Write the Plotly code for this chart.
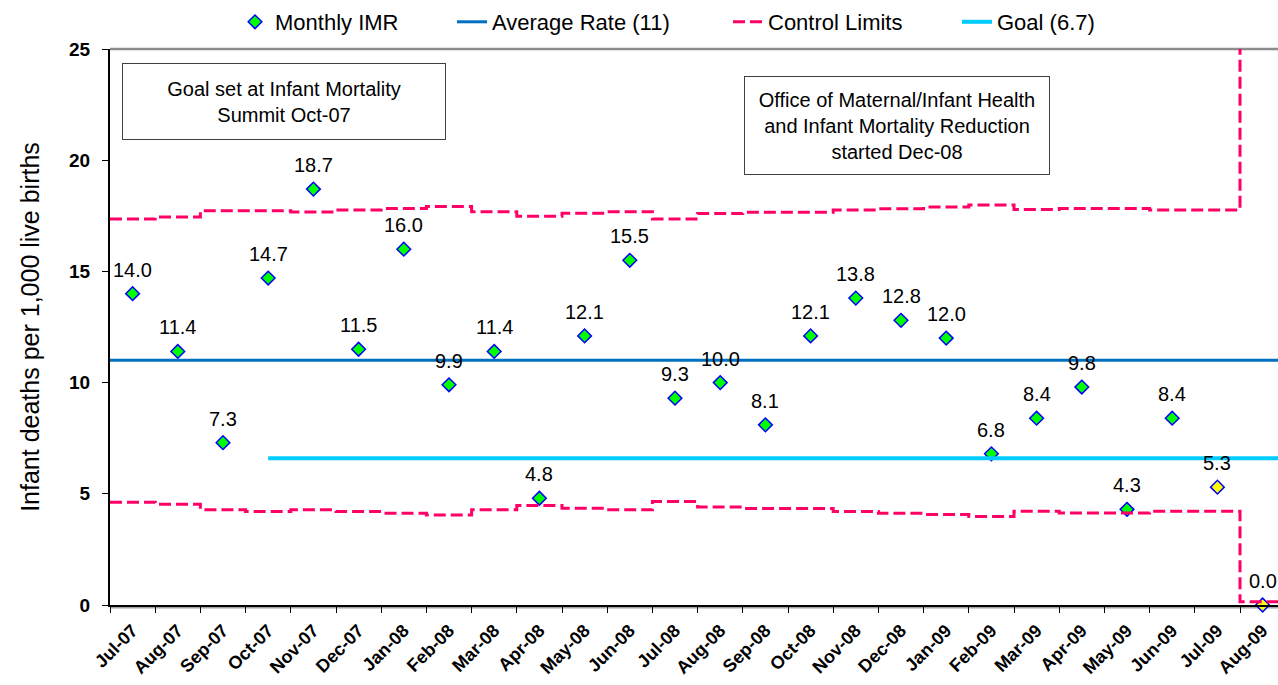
import plotly.graph_objects as go

# ---- data ----
months = ["Jul-07", "Aug-07", "Sep-07", "Oct-07", "Nov-07", "Dec-07", "Jan-08", "Feb-08",
          "Mar-08", "Apr-08", "May-08", "Jun-08", "Jul-08", "Aug-08", "Sep-08", "Oct-08",
          "Nov-08", "Dec-08", "Jan-09", "Feb-09", "Mar-09", "Apr-09", "May-09", "Jun-09",
          "Jul-09", "Aug-09"]
imr = [14.0, 11.4, 7.3, 14.7, 18.7, 11.5, 16.0, 9.9, 11.4, 4.8, 12.1, 15.5, 9.3, 10.0,
       8.1, 12.1, 13.8, 12.8, 12.0, 6.8, 8.4, 9.8, 4.3, 8.4, 5.3, 0.0]
provisional_months = ["Jul-09", "Aug-09"]
upper_limit = [17.36, 17.45, 17.73, 17.73, 17.67, 17.76, 17.83, 17.92, 17.68, 17.48, 17.61,
               17.68, 17.36, 17.6, 17.66, 17.66, 17.76, 17.82, 17.9, 17.99, 17.78, 17.83,
               17.83, 17.76, 17.76, 30.0]
lower_limit = [4.62, 4.53, 4.28, 4.2, 4.28, 4.2, 4.13, 4.05, 4.28, 4.47, 4.35, 4.28, 4.65,
               4.41, 4.34, 4.34, 4.2, 4.13, 4.07, 3.98, 4.22, 4.14, 4.14, 4.22, 4.22, 0.15]
average_rate = 11
goal_drawn = 6.6
goal_start = "Oct-07"
y_ticks = [0, 5, 10, 15, 20, 25]
box_texts = ["Goal set at Infant Mortality<br>Summit Oct-07",
             "Office of Maternal/Infant Health<br>and Infant Mortality Reduction<br>started Dec-08"]

FONT = "Liberation Sans, Arial, sans-serif"

idx = list(range(len(months)))
bounds = [i - 0.5 for i in range(len(months) + 1)]
x_end = len(months) - 0.5

# plot-area geometry (pixels)
L, R, T, B = 110, 0, 49, 80
W, H = 1278, 685
pw = W - L - R
ph = H - T - B
cat_px = 45.2
x_max = -0.5 + pw / cat_px

colors = ["#FFFF00" if m in provisional_months else "#00FF00" for m in months]

fig = go.Figure()

fig.add_trace(go.Scatter(
    x=idx, y=imr, mode="markers", name="Monthly IMR",
    marker=dict(symbol="diamond", size=10.5, color=colors,
                line=dict(color="#0000FF", width=1.5)),
    cliponaxis=False, legendwidth=172,
))

fig.add_trace(go.Scatter(
    x=[bounds[0], bounds[-1]], y=[average_rate, average_rate], mode="lines",
    name="Average Rate (%g)" % average_rate,
    line=dict(color="#0070C0", width=3), legendwidth=231,
))

fig.add_trace(go.Scatter(
    x=bounds, y=upper_limit + [upper_limit[-1]], mode="lines", name="Control Limits",
    line=dict(color="#FF0066", width=3, dash="12px,5px", shape="hv"),
    legendgroup="cl", legendwidth=184,
))
fig.add_trace(go.Scatter(
    x=bounds, y=lower_limit + [lower_limit[-1]], mode="lines", name="Control Limits",
    line=dict(color="#FF0066", width=3, dash="12px,5px", shape="hv"),
    legendgroup="cl", showlegend=False,
))

gs = months.index(goal_start)
fig.add_trace(go.Scatter(
    x=[gs, x_end], y=[goal_drawn, goal_drawn], mode="lines", name="Goal (6.7)",
    line=dict(color="#00CCFF", width=4),
))

annotations = []
for i, v in zip(idx, imr):
    annotations.append(dict(
        x=i, y=v, text="%.1f" % v, showarrow=False, yshift=24,
        font=dict(family=FONT, size=20, color="#000000"),
    ))

def px_to_paper_x(px):
    return (px - L) / pw

def px_to_paper_y(py):
    return (H - B - py) / ph

boxes = [
    dict(left=121.7, top=62.7, w=322, h=75),
    dict(left=744.3, top=76.0, w=304, h=97),
]
for b, t in zip(boxes, box_texts):
    annotations.append(dict(
        xref="paper", yref="paper",
        x=px_to_paper_x(b["left"]), y=px_to_paper_y(b["top"]),
        xanchor="left", yanchor="top", showarrow=False,
        text=t, align="center", valign="middle",
        width=b["w"], height=b["h"],
        bordercolor="#404040", borderwidth=1, borderpad=0, bgcolor="#FFFFFF",
        font=dict(family=FONT, size=20, color="#000000"),
    ))

shapes = [
    dict(type="line", xref="paper", yref="paper", x0=0, x1=1, y0=1, y1=1,
         line=dict(color="#8C8C8C", width=2.5), layer="below"),
    dict(type="line", xref="paper", yref="paper", ysizemode="pixel", yanchor=0,
         x0=0, x1=1, y0=-2.5, y1=-2.5,
         line=dict(color="#A6A6A6", width=2), layer="below"),
]

fig.update_layout(
    width=W, height=H,
    margin=dict(l=L, r=R, t=T, b=B),
    paper_bgcolor="#FFFFFF", plot_bgcolor="#FFFFFF",
    font=dict(family=FONT, color="#000000"),
    showlegend=True,
    legend=dict(orientation="h", x=px_to_paper_x(235), xanchor="left",
                y=px_to_paper_y(22), yanchor="middle",
                font=dict(family=FONT, size=22, color="#000000"),
                bgcolor="rgba(0,0,0,0)"),
    annotations=annotations,
    shapes=shapes,
)

fig.update_xaxes(
    range=[-0.5, x_max], tickmode="array", tickvals=idx, ticktext=months,
    tickangle=-45, ticks="", showgrid=False, zeroline=False,
    showline=True, linecolor="#000000", linewidth=2,
    tickfont=dict(family=FONT, size=18, color="#000000", weight="bold"),
    ticklabelstandoff=6,
    minor=dict(tickmode="array", tickvals=bounds, ticks="outside", ticklen=6,
               tickwidth=1, tickcolor="#000000", showgrid=False),
    automargin=False, fixedrange=True,
)
fig.update_yaxes(
    range=[0, 25], tickmode="array", tickvals=y_ticks,
    ticks="outside", ticklen=6, tickwidth=1, tickcolor="#000000",
    showgrid=False, zeroline=False,
    showline=True, linecolor="#000000", linewidth=2,
    tickfont=dict(family=FONT, size=19, color="#000000", weight="bold"),
    ticklabelstandoff=8,
    title=dict(text="Infant deaths per 1,000 live births",
               font=dict(family=FONT, size=25, color="#000000"), standoff=22),
    automargin=False, fixedrange=True,
)

fig.write_html("out.html", config={"displayModeBar": False},
               post_script="document.body.style.margin='0';document.body.style.overflow='hidden';")
